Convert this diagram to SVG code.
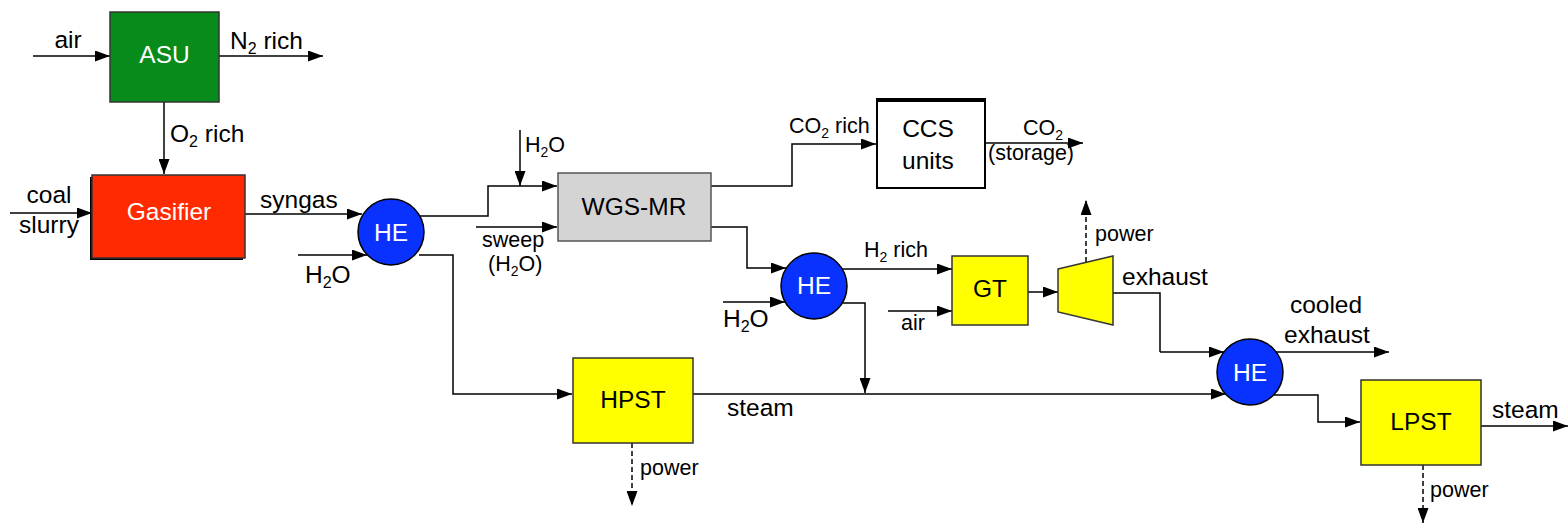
<svg xmlns="http://www.w3.org/2000/svg" width="1568" height="524" viewBox="0 0 1568 524">
<defs>
<marker id="ah" markerUnits="userSpaceOnUse" markerWidth="15" markerHeight="11" refX="15" refY="5.5" orient="auto"><path d="M0,0 L15,5.5 L0,11 z" fill="#000"/></marker>
<style>
text{font-family:"Liberation Sans",Arial,sans-serif;font-size:24.5px;fill:#000}
.s{font-size:21.5px}
.w{fill:#fff}
.m{text-anchor:middle}
.ln{fill:none;stroke:#000;stroke-width:1.5}
.ar{marker-end:url(#ah)}
.d{stroke-dasharray:5,3}
.box{stroke:#333;stroke-width:1.5}
</style>
</defs>
<rect width="1568" height="524" fill="#fff"/>

<g id="connectors">
<path class="ln ar" d="M33,56 H110"/>
<path class="ln ar" d="M219,56 H323"/>
<path class="ln ar" d="M164,102 V174"/>
<path class="ln ar" d="M10,213 H92"/>
<path class="ln ar" d="M245,214 H362"/>
<path class="ln ar" d="M298,255 H367"/>
<path class="ln ar" d="M419,216 H488 V186 H557"/>
<path class="ln ar" d="M520,130 V186"/>
<path class="ln ar" d="M476,227 H557"/>
<path class="ln ar" d="M419,255 H453 V394 H572"/>
<path class="ln ar" d="M711,186 H792 V144 H876"/>
<path class="ln ar" d="M985,143 H1083"/>
<path class="ln ar" d="M711,227 H747 V268 H786"/>
<path class="ln ar" d="M723,302 H785"/>
<path class="ln ar" d="M842,269 H952"/>
<path class="ln ar" d="M843,303 H865 V393"/>
<path class="ln ar" d="M888,311 H952"/>
<path class="ln ar" d="M1028,292 H1058"/>
<path class="ln ar d" d="M1086,262 V200"/>
<path class="ln" d="M1113,293 H1160 V352"/>
<path class="ln ar" d="M1160,352 H1224"/>
<path class="ln ar" d="M1276,352 H1389"/>
<path class="ln ar" d="M693,394 H1226"/>
<path class="ln ar" d="M1274,395 H1318 V422 H1360"/>
<path class="ln ar" d="M1481,426 H1568"/>
<path class="ln ar d" d="M632,443 V506"/>
<path class="ln ar d" d="M1423,465 V523"/>
</g>

<g id="ASU">
<rect x="110" y="12" width="109" height="90" fill="#078C1C" class="box"/>
<text x="164.5" y="63" class="m w">ASU</text>
</g>

<g id="Gasifier">
<rect x="90" y="177" width="153" height="83" fill="#000"/>
<rect x="92" y="175" width="153" height="83" fill="#FF2A00" class="box"/>
<text x="169" y="220" class="m w">Gasifier</text>
</g>

<g id="HE1">
<circle cx="391" cy="232" r="33" fill="#0A32FF" stroke="#000" stroke-width="1.5"/>
<text x="391" y="241" class="m w">HE</text>
</g>

<g id="WGS-MR">
<rect x="558" y="173" width="153" height="68" fill="#D4D4D4" stroke="#555" stroke-width="1.5"/>
<text x="634" y="215" class="m">WGS-MR</text>
</g>

<g id="CCS">
<rect x="877" y="100" width="108" height="88" fill="#fff" stroke="#000" stroke-width="2"/>
<line x1="876" y1="100" x2="986" y2="100" stroke="#000" stroke-width="4"/>
<text x="928" y="137" class="m">CCS</text>
<text x="928" y="169" class="m">units</text>
</g>

<g id="HE2">
<circle cx="814" cy="286" r="33" fill="#0A32FF" stroke="#000" stroke-width="1.5"/>
<text x="814" y="294" class="m w">HE</text>
</g>

<g id="GT">
<rect x="952" y="256" width="76" height="69" fill="#FFFF00" class="box"/>
<text x="990" y="297" class="m">GT</text>
</g>

<g id="Turbine">
<polygon points="1058,269 1113,256 1113,325 1058,312" fill="#FFFF00" class="box"/>
</g>

<g id="HE3">
<circle cx="1250" cy="372" r="33" fill="#0A32FF" stroke="#000" stroke-width="1.5"/>
<text x="1250" y="381" class="m w">HE</text>
</g>

<g id="HPST">
<rect x="573" y="358" width="120" height="85" fill="#FFFF00" class="box"/>
<text x="633" y="408" class="m">HPST</text>
</g>

<g id="LPST">
<rect x="1361" y="380" width="120" height="85" fill="#FFFF00" class="box"/>
<text x="1421" y="430" class="m">LPST</text>
</g>

<g id="labels">
<text x="68" y="48" class="m">air</text>
<text x="230" y="49">N<tspan font-size="16" dy="5">2</tspan><tspan dy="-5"> rich</tspan></text>
<text x="170" y="142">O<tspan font-size="16" dy="5">2</tspan><tspan dy="-5"> rich</tspan></text>
<text x="49" y="203" class="m">coal</text>
<text x="49" y="233" class="m">slurry</text>
<text x="260" y="208">syngas</text>
<text x="305" y="283">H<tspan font-size="16" dy="5">2</tspan><tspan dy="-5">O</tspan></text>
<text x="525" y="152" class="s">H<tspan font-size="14" dy="5">2</tspan><tspan dy="-5">O</tspan></text>
<text x="482" y="247" class="s">sweep</text>
<text x="488" y="271" class="s">(H<tspan font-size="14" dy="5">2</tspan><tspan dy="-5">O)</tspan></text>
<text x="789" y="133" class="s">CO<tspan font-size="14" dy="5">2</tspan><tspan dy="-5"> rich</tspan></text>
<text x="1023" y="135" class="s">CO<tspan font-size="14" dy="5">2</tspan></text>
<text x="988" y="160" class="s">(storage)</text>
<text x="864" y="257" class="s">H<tspan font-size="14" dy="5">2</tspan><tspan dy="-5"> rich</tspan></text>
<text x="723" y="327">H<tspan font-size="16" dy="5">2</tspan><tspan dy="-5">O</tspan></text>
<text x="901" y="330" class="s">air</text>
<text x="1095" y="241" class="s">power</text>
<text x="1122" y="285">exhaust</text>
<text x="1326" y="313" class="m">cooled</text>
<text x="1327" y="343" class="m">exhaust</text>
<text x="727" y="416">steam</text>
<text x="1492" y="418">steam</text>
<text x="640" y="475" class="s">power</text>
<text x="1430" y="497" class="s">power</text>
</g>
</svg>
